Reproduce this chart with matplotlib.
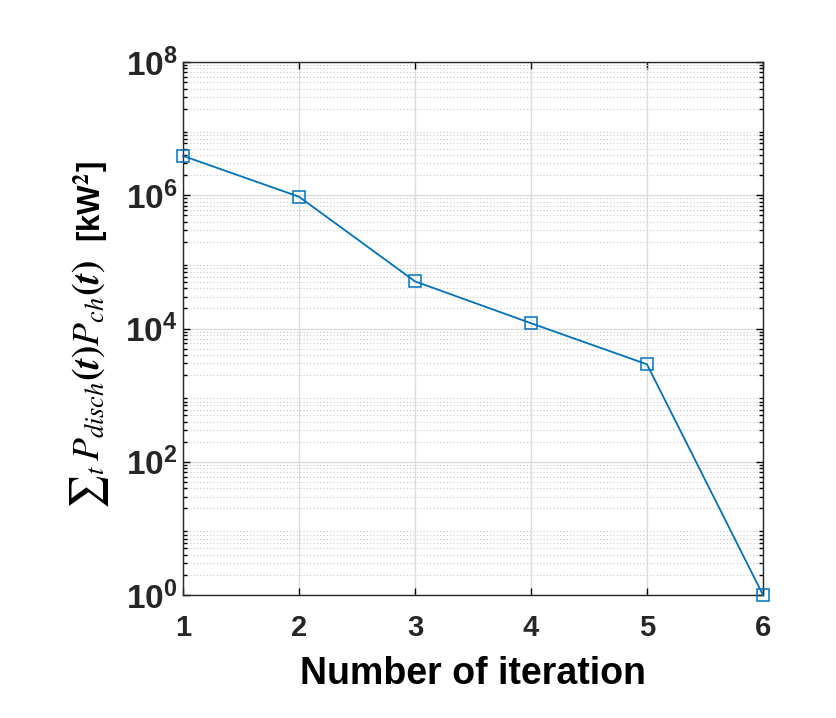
import matplotlib
matplotlib.use("Agg")
import matplotlib.pyplot as plt
from matplotlib.ticker import LogLocator, NullFormatter

# --- Data ---
iterations = [1, 2, 3, 4, 5, 6]
product_sum = [3.9e6, 9.5e5, 5.1e4, 1.2e4, 2.9e3, 1.0]
y_ticks = [1e0, 1e2, 1e4, 1e6, 1e8]

plt.rcParams["font.family"] = ["Liberation Sans", "DejaVu Sans"]
plt.rcParams["mathtext.fontset"] = "stix"

fig = plt.figure(figsize=(8.36, 7.18), dpi=100)
ax = fig.add_axes([183 / 836, 1 - 595 / 718, (763 - 183) / 836, (595 - 62) / 718])

ax.plot(iterations, product_sum, color="#0072BD", lw=1.3, marker="s",
        markersize=8, markerfacecolor="none", markeredgewidth=1.1, clip_on=False, zorder=3)

ax.set_yscale("log")
ax.set_xlim(1, 6)
ax.set_ylim(1e0, 1e8)
ax.set_xticks(iterations)
ax.set_yticks(y_ticks)
ax.yaxis.set_minor_locator(LogLocator(base=10, subs=range(2, 10), numticks=100))
ax.yaxis.set_minor_formatter(NullFormatter())

# MATLAB-like grid
ax.grid(True, which="major", color="#dcdcdc", lw=1.0, ls="-")
ax.grid(True, which="minor", axis="y", color="#c8c8c8", lw=0.8, ls=(0, (1, 2)))
ax.set_axisbelow(True)

ax.tick_params(which="both", direction="in", top=True, right=True, width=1.0)
ax.tick_params(which="major", length=5)
ax.tick_params(which="minor", length=3)
ax.tick_params(axis="x", labelsize=21, pad=14)
ax.tick_params(axis="y", labelsize=24, pad=4)
for lab in ax.get_xticklabels() + ax.get_yticklabels():
    lab.set_fontweight("bold")
    lab.set_color("#262626")
for sp in ax.spines.values():
    sp.set_color("#262626")
    sp.set_linewidth(1.0)

ax.set_xlabel("Number of iteration", fontsize=27, fontweight="bold", labelpad=10)

# y label in two parts: math expression + unit
fig.text(90 / 836, 1 - 385 / 718,
         r"${\sum}_t\, \boldsymbol{P_{disch}(t)P_{ch}(t)}$",
         rotation=90, ha="center", va="center", fontsize=27)
fig.text(91 / 836, 1 - 202 / 718, r"[kW$^\mathbf{2}$]",
         rotation=90, ha="center", va="center", fontsize=22.5, fontweight="bold")

fig.savefig("out.png", dpi=100)
